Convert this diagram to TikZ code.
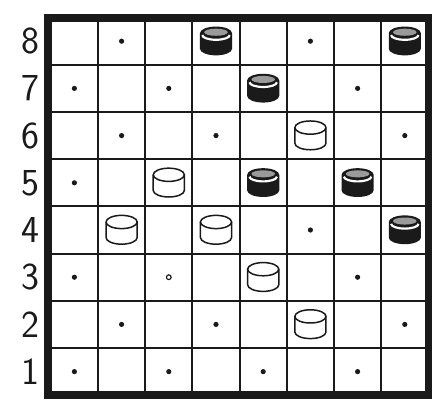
\documentclass[tikz,border=0pt]{standalone}
\usepackage{xcolor}
\usepackage{tikz}
\definecolor{CBInk}{HTML}{1A1A1A}
\definecolor{CBTop}{HTML}{9A9A9A}
\definecolor{CBPaper}{HTML}{FFFFFF}
\tikzset{
  gridline/.style={CBInk,line width=1.2pt},
  frameline/.style={CBInk,line width=4.8pt},
  rowlabel/.style={anchor=center,inner sep=0pt,font=\sffamily\fontsize{23}{23}\selectfont,text=CBInk},
  darkdot/.style={fill=CBInk},
  hollowdot/.style={draw=CBInk,line width=0.7pt},
  blackman/.pic={
    \fill[CBInk] (-0.34,0.17) arc[start angle=180,end angle=0,x radius=0.34,y radius=0.14]
      -- (0.34,-0.16) arc[start angle=0,end angle=-180,x radius=0.34,y radius=0.14] -- cycle;
    \fill[CBTop] (0,0.19) ellipse[x radius=0.25,y radius=0.075];
    \draw[CBPaper,line width=1.3pt] (-0.29,0.13) arc[start angle=180,end angle=360,x radius=0.29,y radius=0.1];
  },
  whiteman/.pic={
    \draw[CBInk,line width=0.9pt,fill=CBPaper] (-0.33,0.17) arc[start angle=180,end angle=0,x radius=0.33,y radius=0.14]
      -- (0.33,-0.16) arc[start angle=0,end angle=-180,x radius=0.33,y radius=0.14] -- cycle;
    \draw[CBInk,line width=0.9pt] (-0.33,0.17) arc[start angle=180,end angle=360,x radius=0.33,y radius=0.14];
  }
}
\begin{document}
\begin{tikzpicture}[x=1cm,y=1cm]
\path[use as bounding box] (-1.076,-0.123) rectangle (8.076,8.373);
\fill[CBPaper] (-1.076,-0.123) rectangle (8.076,8.373);
% grid
\draw[gridline] (1,0) -- (1,8);
\draw[gridline] (2,0) -- (2,8);
\draw[gridline] (3,0) -- (3,8);
\draw[gridline] (4,0) -- (4,8);
\draw[gridline] (5,0) -- (5,8);
\draw[gridline] (6,0) -- (6,8);
\draw[gridline] (7,0) -- (7,8);
\draw[gridline] (0,1) -- (8,1);
\draw[gridline] (0,2) -- (8,2);
\draw[gridline] (0,3) -- (8,3);
\draw[gridline] (0,4) -- (8,4);
\draw[gridline] (0,5) -- (8,5);
\draw[gridline] (0,6) -- (8,6);
\draw[gridline] (0,7) -- (8,7);
\draw[frameline] (-0.06,0.01) rectangle (8.02,8.0);
% row numbers
\node[rowlabel] (row8) at (-0.42,7.5) {8};
\node[rowlabel] (row7) at (-0.42,6.5) {7};
\node[rowlabel] (row6) at (-0.42,5.5) {6};
\node[rowlabel] (row5) at (-0.42,4.5) {5};
\node[rowlabel] (row4) at (-0.42,3.5) {4};
\node[rowlabel] (row3) at (-0.42,2.5) {3};
\node[rowlabel] (row2) at (-0.42,1.5) {2};
\node[rowlabel] (row1) at (-0.42,0.5) {1};
% empty dark squares
\fill[darkdot] (1.5,7.5) circle[radius=0.055];
\fill[darkdot] (5.5,7.5) circle[radius=0.055];
\fill[darkdot] (0.5,6.5) circle[radius=0.055];
\fill[darkdot] (2.5,6.5) circle[radius=0.055];
\fill[darkdot] (6.5,6.5) circle[radius=0.055];
\fill[darkdot] (1.5,5.5) circle[radius=0.055];
\fill[darkdot] (3.5,5.5) circle[radius=0.055];
\fill[darkdot] (7.5,5.5) circle[radius=0.055];
\fill[darkdot] (0.5,4.5) circle[radius=0.055];
\fill[darkdot] (5.5,3.5) circle[radius=0.055];
\fill[darkdot] (0.5,2.5) circle[radius=0.055];
\draw[hollowdot] (2.5,2.5) circle[radius=0.05];
\fill[darkdot] (6.5,2.5) circle[radius=0.055];
\fill[darkdot] (1.5,1.5) circle[radius=0.055];
\fill[darkdot] (3.5,1.5) circle[radius=0.055];
\fill[darkdot] (7.5,1.5) circle[radius=0.055];
\fill[darkdot] (0.5,0.5) circle[radius=0.055];
\fill[darkdot] (2.5,0.5) circle[radius=0.055];
\fill[darkdot] (4.5,0.5) circle[radius=0.055];
\fill[darkdot] (6.5,0.5) circle[radius=0.055];
% black men
\pic at (3.5,7.5) {blackman};
\pic at (7.5,7.5) {blackman};
\pic at (4.5,6.5) {blackman};
\pic at (4.5,4.5) {blackman};
\pic at (6.5,4.5) {blackman};
\pic at (7.5,3.5) {blackman};
% white men
\pic at (5.5,5.5) {whiteman};
\pic at (2.5,4.5) {whiteman};
\pic at (1.5,3.5) {whiteman};
\pic at (3.5,3.5) {whiteman};
\pic at (4.5,2.5) {whiteman};
\pic at (5.5,1.5) {whiteman};
\end{tikzpicture}
\end{document}
